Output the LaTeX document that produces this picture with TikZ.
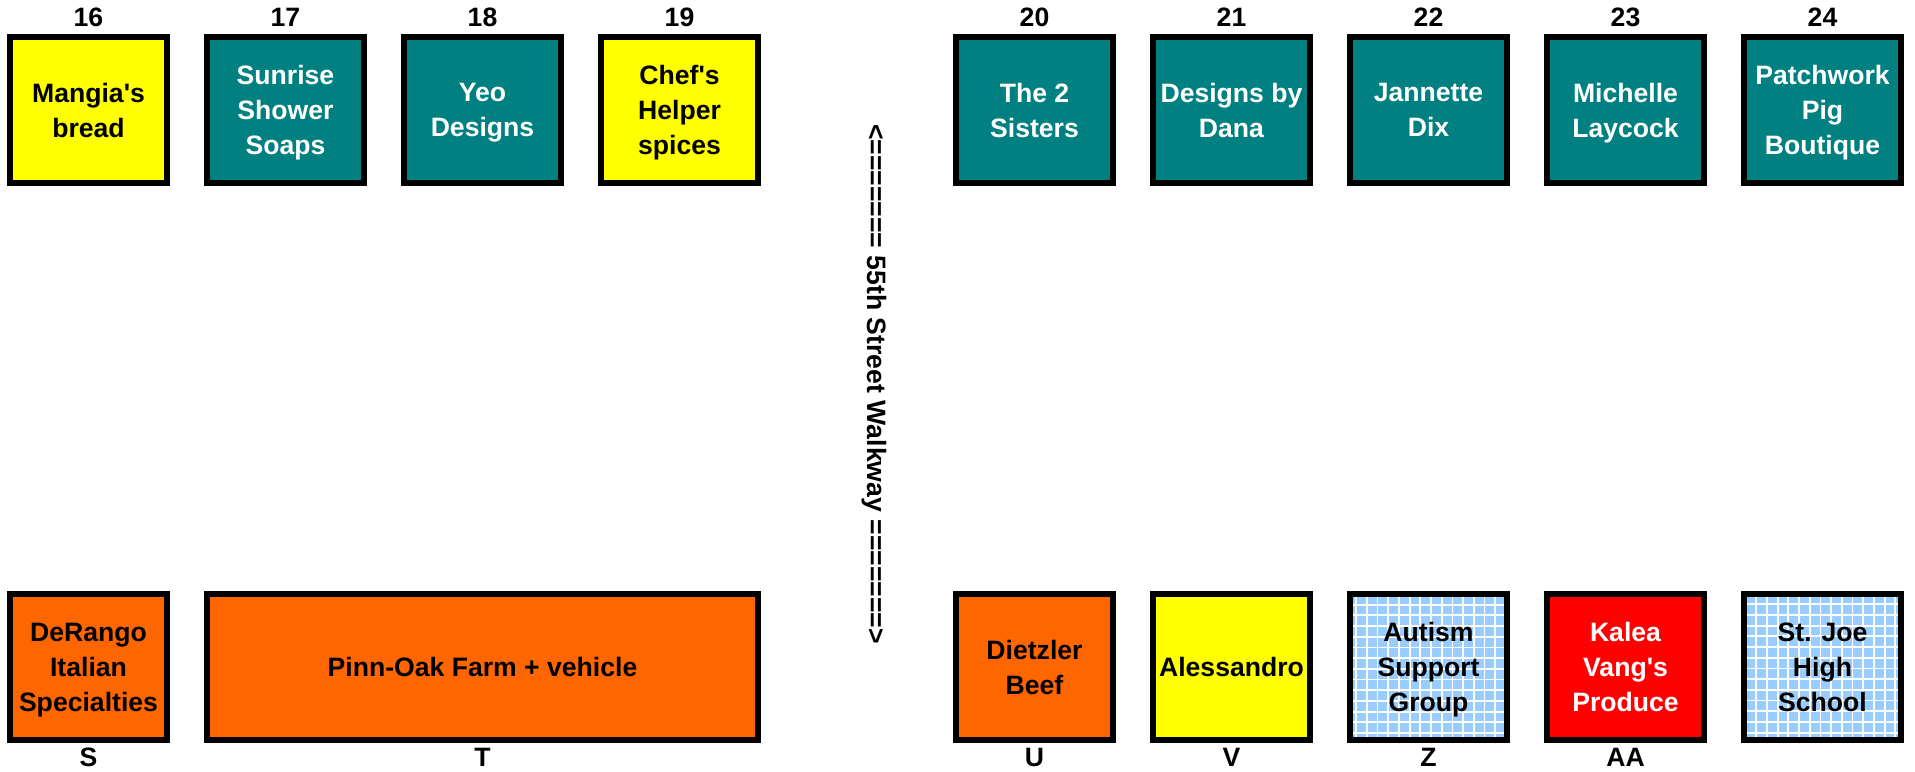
\documentclass[tikz,border=0pt]{standalone}
\usepackage{fontspec}
\newfontfamily\standfont{Liberation Sans}
\definecolor{verdeacqua}{HTML}{008080}
\definecolor{giallo}{HTML}{FFFF00}
\definecolor{arancio}{HTML}{FF6600}
\definecolor{rosso}{HTML}{FF0000}
\definecolor{azzurro}{HTML}{99CCFF}
\begin{document}
\begin{tikzpicture}[x=0.5pt, y=-0.5pt,
    banco/.style={draw=black, line width=3pt, minimum width=78.5pt, minimum height=73pt,
        inner sep=0pt, align=center, text depth=0pt,
        font=\standfont\bfseries\fontsize{13.3}{17.5}\selectfont},
    bancoverde/.style={banco, fill=verdeacqua, text=white},
    bancogiallo/.style={banco, fill=giallo, text=black},
    bancoarancio/.style={banco, fill=arancio, text=black},
    bancorosso/.style={banco, fill=rosso, text=white},
    bancogriglia/.style={banco, fill=azzurro, text=black,
        path picture={\draw[white, line width=0.9pt]
            (path picture bounding box.south west) grid[step=5.35pt]
            (path picture bounding box.north east);}},
    etichetta/.style={font=\standfont\bfseries\fontsize{13.3}{16}\selectfont, inner sep=0pt}]
    \useasboundingbox (0,0) rectangle (1915,771);

    % Banchi in alto
    \node[bancogiallo] (b16) at (88.5,110) {Mangia's\\bread};
    \node[bancoverde]  (b17) at (285.5,110) {Sunrise\\Shower\\Soaps};
    \node[bancoverde]  (b18) at (482.5,110) {Yeo\\Designs};
    \node[bancogiallo] (b19) at (679.5,110) {Chef's\\Helper\\spices};
    \node[bancoverde]  (b20) at (1034.5,110) {The 2\\Sisters};
    \node[bancoverde]  (b21) at (1231.5,110) {Designs by\\Dana};
    \node[bancoverde]  (b22) at (1428.5,110) {Jannette\\Dix};
    \node[bancoverde]  (b23) at (1625.5,110) {Michelle\\Laycock};
    \node[bancoverde]  (b24) at (1822.5,110) {Patchwork\\Pig\\Boutique};

    % Numeri
    \node[etichetta] (n16) at (88.5,17) {16};
    \node[etichetta] (n17) at (285.5,17) {17};
    \node[etichetta] (n18) at (482.5,17) {18};
    \node[etichetta] (n19) at (679.5,17) {19};
    \node[etichetta] (n20) at (1034.5,17) {20};
    \node[etichetta] (n21) at (1231.5,17) {21};
    \node[etichetta] (n22) at (1428.5,17) {22};
    \node[etichetta] (n23) at (1625.5,17) {23};
    \node[etichetta] (n24) at (1822.5,17) {24};

    % Banchi in basso
    \node[bancoarancio] (bS) at (88.5,667) {DeRango\\Italian\\Specialties};
    \node[bancoarancio, minimum width=275.5pt] (bT) at (482.5,667) {Pinn-Oak Farm + vehicle};
    \node[bancoarancio] (bU) at (1034.5,667) {Dietzler\\Beef};
    \node[bancogiallo]  (bV) at (1231.5,667) {Alessandro};
    \node[bancogriglia] (bZ) at (1428.5,667) {Autism\\Support\\Group};
    \node[bancorosso]   (bAA) at (1625.5,667) {Kalea\\Vang's\\Produce};
    \node[bancogriglia] (bSJ) at (1822.5,667) {St. Joe\\High\\School};

    % Lettere
    \node[etichetta] (lS) at (88.5,757) {S};
    \node[etichetta] (lT) at (482.5,757) {T};
    \node[etichetta] (lU) at (1034.5,757) {U};
    \node[etichetta] (lV) at (1231.5,757) {V};
    \node[etichetta] (lZ) at (1428.5,757) {Z};
    \node[etichetta] (lAA) at (1625.5,757) {AA};

    % Passaggio
    \node[etichetta, rotate=-90] (walk) at (874,384) {<======= 55th Street Walkway =======>};

\end{tikzpicture}
\end{document}
